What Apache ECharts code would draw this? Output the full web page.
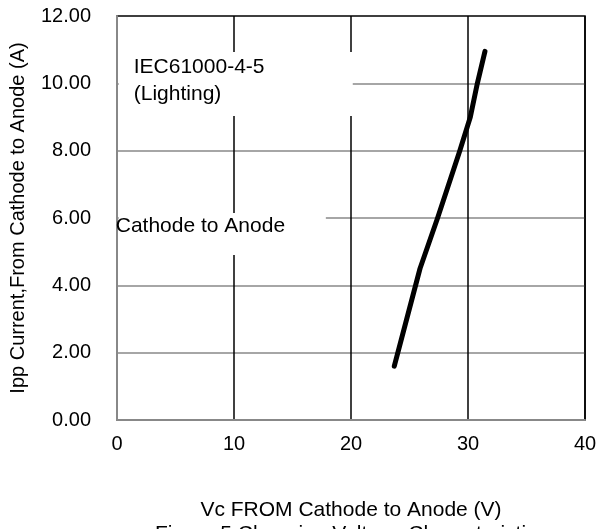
<!DOCTYPE html>
<html>
<head>
<meta charset="utf-8">
<script src="https://cdn.jsdelivr.net/npm/echarts@6/dist/echarts.min.js"></script>
<style>
html,body{margin:0;padding:0;background:#fff;}
#c{width:599px;height:529px;}
</style>
</head>
<body>
<div id="c"></div>
<script>
// Data
var vcVolts = [23.7, 25.9, 27.4, 29.3, 30.2, 30.8, 31.45];
var ippAmps = [1.6, 4.5, 6.0, 8.0, 9.0, 10.0, 10.95];
var xTicks = [0, 10, 20, 30, 40];
var yTicks = [0, 2, 4, 6, 8, 10, 12];
var xTitle = 'Vc FROM Cathode to Anode (V)';
var figCaption = 'Figure 5 Clamping Voltage Characteristics';
var yTitle = 'Ipp Current,From Cathode to Anode (A)';
var note1 = 'IEC61000-4-5\n(Lighting)';
var note2 = 'Cathode to Anode';
// annotation boxes in data units [x0, y0, x1, y1]
var note1Box = [0.15, 9.03, 20.15, 10.93];
var note2Box = [0.15, 4.9, 17.85, 6.15];

var FONT = 'Liberation Sans, Arial, sans-serif';
var points = vcVolts.map(function (v, i) { return [v, ippAmps[i]]; });

var chart = echarts.init(document.getElementById('c'));
chart.setOption({
  animation: false,
  backgroundColor: '#fff',
  textStyle: { fontFamily: FONT, color: '#000' },
  grid: {
    left: 117, right: 14, top: 16, bottom: 109,
    containLabel: false, outerBoundsMode: 'none',
    show: true, borderColor: '#000', borderWidth: 1.5, backgroundColor: 'transparent'
  },
  xAxis: {
    type: 'value', min: xTicks[0], max: xTicks[xTicks.length - 1], interval: 10,
    name: xTitle + '\n' + figCaption,
    nameLocation: 'middle', nameGap: 78,
    nameTextStyle: { fontSize: 21, color: '#000', fontFamily: FONT, lineHeight: 24 },
    axisLine: { show: true, lineStyle: { color: '#888', width: 2 } },
    axisTick: { show: false },
    axisLabel: { fontSize: 20, color: '#000', margin: 14, fontFamily: FONT },
    splitLine: { show: true, lineStyle: { color: '#000', width: 1.5 } }
  },
  yAxis: {
    type: 'value', min: yTicks[0], max: yTicks[yTicks.length - 1], interval: 2,
    name: yTitle, nameLocation: 'middle', nameGap: 89,
    nameTextStyle: { fontSize: 20, color: '#000', fontFamily: FONT },
    axisLine: { show: true, lineStyle: { color: '#888', width: 2 } },
    axisTick: { show: false },
    axisLabel: {
      fontSize: 20, color: '#000', margin: 26, fontFamily: FONT,
      formatter: function (v) { return v.toFixed(2); }
    },
    splitLine: { show: true, showMinLine: false, showMaxLine: false, lineStyle: { color: '#888', width: 1.5 } }
  },
  series: [{
    type: 'line',
    data: points,
    showSymbol: false,
    symbol: 'none',
    lineStyle: { color: '#000', width: 5, cap: 'round', join: 'round' },
    markArea: {
      silent: true,
      itemStyle: { color: '#fff' },
      data: [
        [{ coord: [note1Box[0], note1Box[1]],
           label: { show: true, position: [15, 2], formatter: note1, fontSize: 21, lineHeight: 27, color: '#000', fontFamily: FONT, align: 'left', verticalAlign: 'top' } },
         { coord: [note1Box[2], note1Box[3]] }],
        [{ coord: [note2Box[0], note2Box[1]],
           label: { show: true, position: [-3, 3], formatter: note2, fontSize: 21, color: '#000', fontFamily: FONT, align: 'left', verticalAlign: 'top' } },
         { coord: [note2Box[2], note2Box[3]] }]
      ]
    }
  }]
});
</script>
</body>
</html>
